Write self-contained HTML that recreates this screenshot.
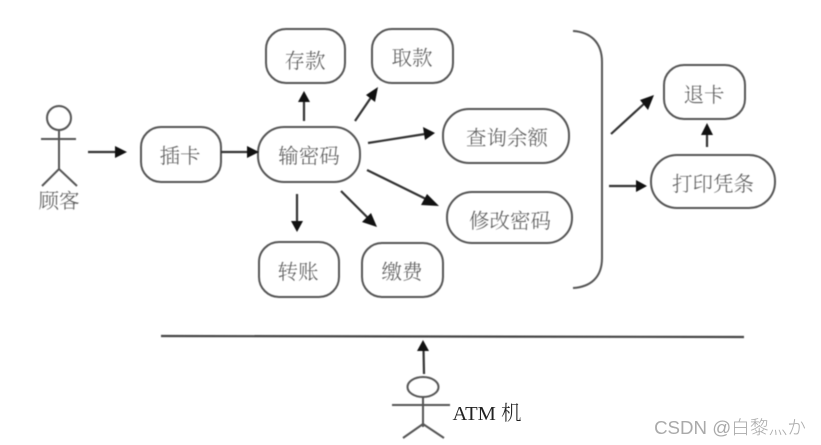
<!DOCTYPE html>
<html><head><meta charset="utf-8"><style>
html,body{margin:0;padding:0;background:#fff;width:821px;height:445px;overflow:hidden}
svg{display:block}
.b{fill:#fff;stroke:#555;stroke-width:2}
.l{stroke:#333;stroke-width:2.2;fill:none}
.s{stroke:#555;stroke-width:2;fill:none}
.h{fill:#111}
text{font-family:"Liberation Serif","Noto Serif CJK SC",serif;font-size:20.5px;fill:#5a5a5a;text-anchor:middle;font-weight:300}
</style></head><body>
<svg width="821" height="445" viewBox="0 0 821 445" xmlns="http://www.w3.org/2000/svg">
<g style="filter:blur(0.5px)">
<rect class="b" x="266" y="29" width="79" height="54" rx="20"/>
<rect class="b" x="372" y="29" width="81" height="54" rx="20"/>
<rect class="b" x="141" y="127" width="80" height="55" rx="20"/>
<rect class="b" x="258" y="127" width="102" height="55" rx="26"/>
<rect class="b" x="259" y="242" width="80" height="55" rx="20"/>
<rect class="b" x="362" y="243" width="81" height="54" rx="20"/>
<rect class="b" x="443" y="109" width="126" height="54" rx="26"/>
<rect class="b" x="447" y="192" width="125" height="51" rx="25"/>
<rect class="b" x="664" y="65" width="81" height="54" rx="20"/>
<rect class="b" x="651" y="155" width="124" height="53" rx="26"/>
<text x="305" y="68">存款</text>
<text x="412" y="65">取款</text>
<text x="180" y="163">插卡</text>
<text x="309" y="163">输密码</text>
<text x="298" y="279">转账</text>
<text x="402" y="279">缴费</text>
<text x="507" y="145">查询余额</text>
<text x="510" y="228">修改密码</text>
<text x="704" y="102">退卡</text>
<text x="713" y="191">打印凭条</text>
<text x="59" y="208">顾客</text>
<path class="s" d="M573 31C590 32 602 42 602 62V258C602 278 590 287 573 288"/>
<circle class="s" cx="59" cy="118" r="12"/>
<path class="s" d="M41 139H76M59 130V169M42 186L59 169L77 186"/>
<ellipse class="s" cx="423" cy="387" rx="15.500" ry="10"/>
<path class="s" d="M392 405H450M423 397V427M403 438L423 424L444 438"/>
<path d="M161 336L744 337" stroke="#444" stroke-width="2.200" fill="none"/>
<path class="l" d="M88 152H116M221 152H248M304 121V94M355 121L372 96M368 143L425 134M367 170L428 200M341 191L369 219M297 194V222M611 134L646 102M609 186H640M707 147V130M424 374L423.500 348"/>
<path class="h" d="M127 152L115 146V158ZM259 152L247 146V158ZM304 91L298 102H310ZM378 87L366 95L375 102ZM435 133L423 127L425 140ZM439 206L427 194L421 205ZM377 227L371 213L362 222ZM297 232L291 221H303ZM654 95L640 100L648 110ZM647 186L636 180V192ZM707 123L701 135H713ZM423 340L417 351H429Z"/>
</g>
<text x="487" y="420" style="fill:#222;font-size:20.500px;filter:blur(0.3px)">ATM 机</text>
<text x="730" y="434" style="font-family:'Liberation Sans','Noto Sans CJK SC',sans-serif;font-size:18.700px;fill:#aaa">CSDN @白黎灬か</text>
</svg>
</body></html>
